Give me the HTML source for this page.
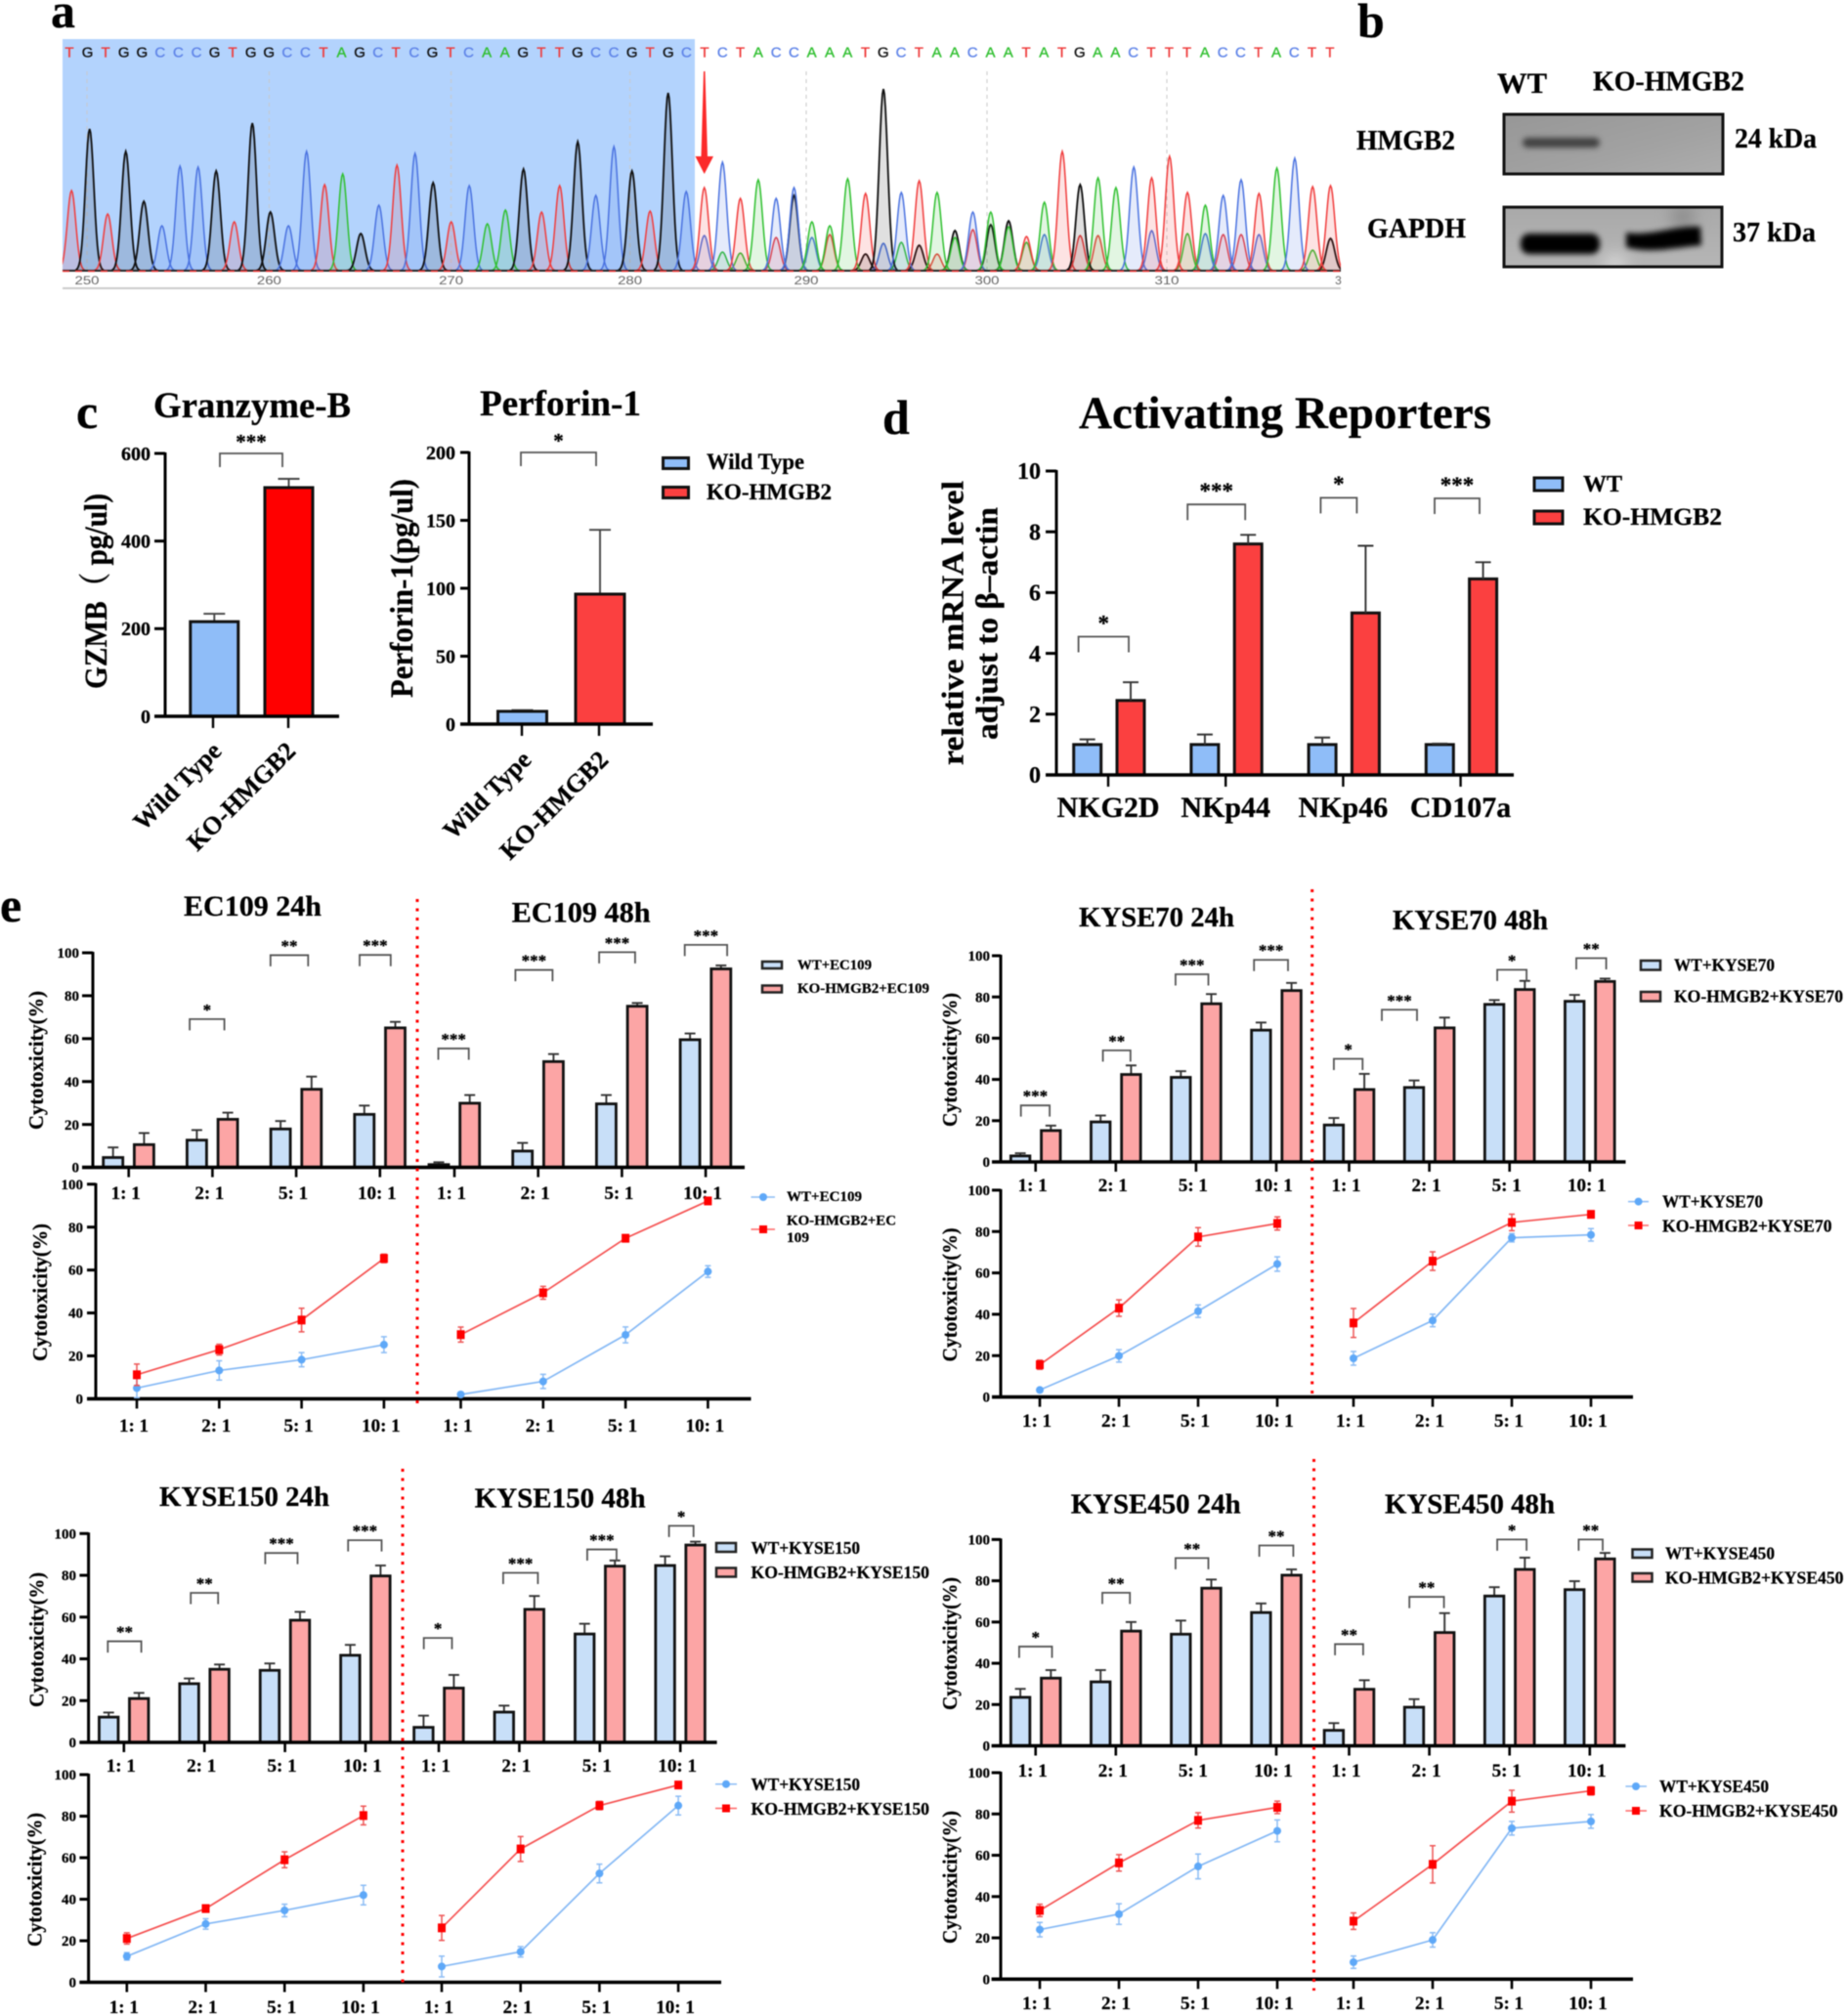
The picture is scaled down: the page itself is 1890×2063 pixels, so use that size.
<!DOCTYPE html>
<html lang="en">
<head>
<meta charset="utf-8">
<title>HMGB2 knockout figure</title>
<style>
html,body{margin:0;padding:0;background:#fff;}
svg{display:block;filter:blur(.6px);}
text{font-family:"Liberation Serif","Noto Serif CJK SC",serif;font-weight:bold;fill:#000;stroke:#000;stroke-width:.25px;}
</style>
</head>
<body>
<svg id="root" width="1890" height="2063" viewBox="0 0 1890 2063">
<defs>
<clipPath id="chromClip"><rect x="64" y="40" width="1308" height="240"/></clipPath>
<clipPath id="gapdhClip"><rect x="1539" y="212" width="223" height="61"/></clipPath>
<filter id="bandBlur" x="-20%" y="-100%" width="140%" height="300%"><feGaussianBlur stdDeviation="3"/></filter>
<filter id="softBlur" x="-100%" y="-100%" width="300%" height="300%"><feGaussianBlur stdDeviation="8"/></filter>
<linearGradient id="blotA" x1="0" y1="0" x2="1" y2="1"><stop offset="0" stop-color="#979797"/><stop offset=".6" stop-color="#a2a2a2"/><stop offset="1" stop-color="#adadad"/></linearGradient>
<linearGradient id="blotB" x1="0" y1="0" x2="0" y2="1"><stop offset="0" stop-color="#a9a9a9"/><stop offset="1" stop-color="#b6b6b6"/></linearGradient>
</defs>
<rect x="0" y="0" width="1890" height="2063" fill="#fff"/>

<!-- panel letters -->
<text x="52" y="28" font-size="50">a</text>
<text x="1389" y="38" font-size="50">b</text>
<text x="78" y="438" font-size="50">c</text>
<text x="903" y="444" font-size="50">d</text>
<text x="0" y="943" font-size="50">e</text>

<!-- panel a -->
<g id="chrom">
<rect x="64" y="40" width="647" height="237" fill="#b3d3fd"/>
<g id="chromGrid"></g>
<g id="chromPeaks" clip-path="url(#chromClip)"></g>
<g id="chromLetters"></g>
<line x1="64" y1="277" x2="1372" y2="277" stroke="#222" stroke-width="2"/>
<line x1="64" y1="277.5" x2="1372" y2="277.5" stroke="#e33" stroke-width="1.5" stroke-dasharray="7 6"/>
<line x1="64" y1="295" x2="1372" y2="295" stroke="#ccc" stroke-width="2"/>
<polygon points="720,73 721.5,73 724,160 730,160 720.7,178 711.5,160 717.5,160" fill="#fb2a2a"/>
</g>

<!-- panel b -->
<g>
<text x="1532" y="95" font-size="30" textLength="51" lengthAdjust="spacingAndGlyphs">WT</text>
<text x="1630" y="92.5" font-size="28" textLength="155" lengthAdjust="spacingAndGlyphs">KO-HMGB2</text>
<text x="1388" y="153" font-size="28" textLength="101" lengthAdjust="spacingAndGlyphs">HMGB2</text>
<text x="1399" y="243" font-size="28" textLength="101" lengthAdjust="spacingAndGlyphs">GAPDH</text>
<text x="1775" y="151" font-size="28" textLength="84" lengthAdjust="spacingAndGlyphs">24 kDa</text>
<text x="1773" y="247" font-size="28" textLength="85" lengthAdjust="spacingAndGlyphs">37 kDa</text>
<rect x="1539" y="117" width="224" height="61" fill="url(#blotA)" stroke="#111" stroke-width="3"/>
<rect x="1558" y="141" width="79" height="10" rx="5" fill="#404040" filter="url(#bandBlur)"/>
<rect x="1539" y="212" width="223" height="61" fill="url(#blotB)"/>
<g clip-path="url(#gapdhClip)">
<ellipse cx="1722" cy="222" rx="12" ry="12" fill="#8a8a8a" filter="url(#softBlur)"/>
<ellipse cx="1653" cy="270" rx="12" ry="9" fill="#dcdcdc" filter="url(#softBlur)"/>
<rect x="1556" y="239" width="81" height="21" rx="9" fill="#060606" filter="url(#bandBlur)"/>
<path d="M1664 238 C1690 242 1710 231 1740 232 L1741 251 C1715 253 1690 260 1664 253 Z" fill="#060606" filter="url(#bandBlur)"/>
</g>
<rect x="1539" y="212" width="223" height="61" fill="none" stroke="#111" stroke-width="3"/>
</g>

<!-- panel c static text -->
<g>
<text x="157" y="427" font-size="37" textLength="202" lengthAdjust="spacingAndGlyphs">Granzyme-B</text>
<text x="491" y="425" font-size="37" textLength="165" lengthAdjust="spacingAndGlyphs">Perforin-1</text>
<text transform="translate(109,605) rotate(-90)" text-anchor="middle" font-size="33" textLength="200" lengthAdjust="spacingAndGlyphs">GZMB（ pg/ul)</text>
<text transform="translate(422,602) rotate(-90)" text-anchor="middle" font-size="33" textLength="224" lengthAdjust="spacingAndGlyphs">Perforin-1(pg/ul)</text>
<rect x="678.5" y="468.5" width="26" height="11" fill="#8fbdf8" stroke="#111" stroke-width="3"/>
<text x="723" y="480" font-size="23" textLength="100" lengthAdjust="spacingAndGlyphs">Wild Type</text>
<rect x="678.5" y="498.5" width="26" height="11" fill="#fb4040" stroke="#111" stroke-width="3"/>
<text x="723" y="511" font-size="23" textLength="128" lengthAdjust="spacingAndGlyphs">KO-HMGB2</text>
</g>
<g id="gzmbChart"></g>
<g id="perforinChart"></g>

<!-- panel d static text -->
<g>
<text x="1104" y="438" font-size="47" textLength="422" lengthAdjust="spacingAndGlyphs">Activating Reporters</text>
<text transform="translate(985.7,637.5) rotate(-90)" text-anchor="middle" font-size="32" textLength="291" lengthAdjust="spacingAndGlyphs">relative mRNA level</text>
<text transform="translate(1020.7,638) rotate(-90)" text-anchor="middle" font-size="32" textLength="238" lengthAdjust="spacingAndGlyphs">adjust to β–actin</text>
<rect x="1570" y="489" width="29" height="13" fill="#8fbdf8" stroke="#111" stroke-width="3"/>
<text x="1620" y="503" font-size="24" textLength="40" lengthAdjust="spacingAndGlyphs">WT</text>
<rect x="1570" y="523" width="29" height="13" fill="#fb4040" stroke="#111" stroke-width="3"/>
<text x="1620" y="537" font-size="25" textLength="142" lengthAdjust="spacingAndGlyphs">KO-HMGB2</text>
</g>
<g id="mrnaChart"></g>

<!-- panel e static text : EC109 -->
<g>
<text x="188" y="937" font-size="30" textLength="141" lengthAdjust="spacingAndGlyphs">EC109 24h</text>
<text x="523.6" y="943.6" font-size="30" textLength="142" lengthAdjust="spacingAndGlyphs">EC109 48h</text>
<text transform="translate(44,1085) rotate(-90)" text-anchor="middle" font-size="21" textLength="142" lengthAdjust="spacingAndGlyphs">Cytotoxicity(%)</text>
<text transform="translate(48,1322.5) rotate(-90)" text-anchor="middle" font-size="21" textLength="141" lengthAdjust="spacingAndGlyphs">Cytotoxicity(%)</text>
<rect x="780" y="984" width="20" height="7" fill="#c8dff8" stroke="#222" stroke-width="2.5"/>
<text x="816" y="992" font-size="15" textLength="76" lengthAdjust="spacingAndGlyphs">WT+EC109</text>
<rect x="780" y="1008.5" width="20" height="7" fill="#fca5a5" stroke="#222" stroke-width="2.5"/>
<text x="816" y="1016" font-size="15" textLength="135" lengthAdjust="spacingAndGlyphs">KO-HMGB2+EC109</text>
<line x1="768.5" y1="1225" x2="793" y2="1225" stroke="#8bbcf5" stroke-width="1.5"/>
<circle cx="781" cy="1225" r="4" fill="#5ea8f8"/>
<text x="805" y="1229" font-size="15" textLength="77" lengthAdjust="spacingAndGlyphs">WT+EC109</text>
<line x1="768.5" y1="1258" x2="793" y2="1258" stroke="#f66" stroke-width="1.5"/>
<rect x="777" y="1254" width="8" height="8" fill="#f00"/>
<text x="805" y="1253.6" font-size="15" textLength="112" lengthAdjust="spacingAndGlyphs">KO-HMGB2+EC</text>
<text x="805" y="1271" font-size="15" textLength="23" lengthAdjust="spacingAndGlyphs">109</text>
</g>
<g id="ec109Bar"></g>
<g id="ec109Line"></g>
<line x1="427" y1="920" x2="427" y2="1437" stroke="#f00" stroke-width="3" stroke-dasharray="3 6.5"/>

<!-- KYSE70 -->
<g>
<text x="1104" y="948" font-size="29" textLength="159" lengthAdjust="spacingAndGlyphs">KYSE70 24h</text>
<text x="1425" y="951" font-size="29" textLength="159" lengthAdjust="spacingAndGlyphs">KYSE70 48h</text>
<text transform="translate(979,1084.5) rotate(-90)" text-anchor="middle" font-size="21" textLength="137" lengthAdjust="spacingAndGlyphs">Cytotoxicity(%)</text>
<text transform="translate(979,1325) rotate(-90)" text-anchor="middle" font-size="21" textLength="137" lengthAdjust="spacingAndGlyphs">Cytotoxicity(%)</text>
<rect x="1679" y="983" width="20" height="9.5" fill="#c8dff8" stroke="#222" stroke-width="2.5"/>
<text x="1713" y="993.6" font-size="17.5" textLength="103" lengthAdjust="spacingAndGlyphs">WT+KYSE70</text>
<rect x="1679" y="1015" width="20" height="9.5" fill="#fca5a5" stroke="#222" stroke-width="2.5"/>
<text x="1713" y="1025.7" font-size="17.5" textLength="173" lengthAdjust="spacingAndGlyphs">KO-HMGB2+KYSE70</text>
<line x1="1666" y1="1229.6" x2="1687" y2="1229.6" stroke="#8bbcf5" stroke-width="1.5"/>
<circle cx="1676.6" cy="1229.6" r="4" fill="#5ea8f8"/>
<text x="1701" y="1235.7" font-size="17.5" textLength="103" lengthAdjust="spacingAndGlyphs">WT+KYSE70</text>
<line x1="1666" y1="1254" x2="1687" y2="1254" stroke="#f66" stroke-width="1.5"/>
<rect x="1672.6" y="1250" width="8" height="8" fill="#f00"/>
<text x="1701" y="1260.7" font-size="17.5" textLength="173.5" lengthAdjust="spacingAndGlyphs">KO-HMGB2+KYSE70</text>
</g>
<g id="kyse70Bar"></g>
<g id="kyse70Line"></g>
<line x1="1342.7" y1="910" x2="1342.7" y2="1430" stroke="#f00" stroke-width="3" stroke-dasharray="3 6.5"/>

<!-- KYSE150 -->
<g>
<text x="163" y="1541" font-size="29" textLength="174" lengthAdjust="spacingAndGlyphs">KYSE150 24h</text>
<text x="485.6" y="1542.4" font-size="29" textLength="175" lengthAdjust="spacingAndGlyphs">KYSE150 48h</text>
<text transform="translate(44.6,1678) rotate(-90)" text-anchor="middle" font-size="21" textLength="138" lengthAdjust="spacingAndGlyphs">Cytotoxicity(%)</text>
<text transform="translate(42.7,1923.5) rotate(-90)" text-anchor="middle" font-size="21" textLength="137" lengthAdjust="spacingAndGlyphs">Cytotoxicity(%)</text>
<rect x="733" y="1579" width="20" height="9" fill="#c8dff8" stroke="#222" stroke-width="2.5"/>
<text x="768.5" y="1590" font-size="17.5" textLength="111.5" lengthAdjust="spacingAndGlyphs">WT+KYSE150</text>
<rect x="733" y="1604.5" width="20" height="9" fill="#fca5a5" stroke="#222" stroke-width="2.5"/>
<text x="768.5" y="1615" font-size="17.5" textLength="182.5" lengthAdjust="spacingAndGlyphs">KO-HMGB2+KYSE150</text>
<line x1="732" y1="1825.7" x2="754" y2="1825.7" stroke="#8bbcf5" stroke-width="1.5"/>
<circle cx="743" cy="1825.7" r="4" fill="#5ea8f8"/>
<text x="768.5" y="1832" font-size="17.5" textLength="111.5" lengthAdjust="spacingAndGlyphs">WT+KYSE150</text>
<line x1="732" y1="1850.5" x2="754" y2="1850.5" stroke="#f66" stroke-width="1.5"/>
<rect x="739" y="1846.5" width="8" height="8" fill="#f00"/>
<text x="768.5" y="1857" font-size="17.5" textLength="182.5" lengthAdjust="spacingAndGlyphs">KO-HMGB2+KYSE150</text>
</g>
<g id="kyse150Bar"></g>
<g id="kyse150Line"></g>
<line x1="412" y1="1503" x2="412" y2="2031" stroke="#f00" stroke-width="3" stroke-dasharray="3 6.5"/>

<!-- KYSE450 -->
<g>
<text x="1095.7" y="1548.5" font-size="29" textLength="174" lengthAdjust="spacingAndGlyphs">KYSE450 24h</text>
<text x="1417" y="1548.5" font-size="29" textLength="174" lengthAdjust="spacingAndGlyphs">KYSE450 48h</text>
<text transform="translate(979,1682) rotate(-90)" text-anchor="middle" font-size="21" textLength="136" lengthAdjust="spacingAndGlyphs">Cytotoxicity(%)</text>
<text transform="translate(979,1921) rotate(-90)" text-anchor="middle" font-size="21" textLength="136" lengthAdjust="spacingAndGlyphs">Cytotoxicity(%)</text>
<rect x="1670.5" y="1585.5" width="20" height="8.5" fill="#c8dff8" stroke="#222" stroke-width="2.5"/>
<text x="1704" y="1595.5" font-size="17.5" textLength="112" lengthAdjust="spacingAndGlyphs">WT+KYSE450</text>
<rect x="1670.5" y="1610" width="20" height="8.5" fill="#fca5a5" stroke="#222" stroke-width="2.5"/>
<text x="1704" y="1620.6" font-size="17.5" textLength="182.5" lengthAdjust="spacingAndGlyphs">KO-HMGB2+KYSE450</text>
<line x1="1663.4" y1="1828" x2="1685" y2="1828" stroke="#8bbcf5" stroke-width="1.5"/>
<circle cx="1674" cy="1828" r="4" fill="#5ea8f8"/>
<text x="1698" y="1834" font-size="17.5" textLength="112" lengthAdjust="spacingAndGlyphs">WT+KYSE450</text>
<line x1="1663.4" y1="1853" x2="1685" y2="1853" stroke="#f66" stroke-width="1.5"/>
<rect x="1670" y="1849" width="8" height="8" fill="#f00"/>
<text x="1698" y="1859" font-size="17.5" textLength="182.4" lengthAdjust="spacingAndGlyphs">KO-HMGB2+KYSE450</text>
</g>
<g id="kyse450Bar"></g>
<g id="kyse450Line"></g>
<line x1="1344.5" y1="1493" x2="1344.5" y2="2037" stroke="#f00" stroke-width="3" stroke-dasharray="3 6.5"/>
</svg>

<script>
/* ---------- data: sequencing trace ---------- */
const baseCalls = "TGTGGCCCGTGGCCTAGCTCGTCAAGTTGCCGTGCTCTACCAAATGCTAACAATATGAACTTTACCTACTT";
const primaryPeakHeights = [82,145,58,122,71,46,107,106,102,50,151,60,46,122,88,99,38,67,108,120,90,50,87,48,62,104,60,87,132,77,127,102,61,182,81,85,111,74,93,74,85,50,46,94,79,186,80,92,80,34,60,60,45,35,70,122,88,95,85,106,95,117,80,67,77,93,79,105,115,86,87];
const secondaryPeakBases = ["C","A","A","T","G","C","T","G","C","A","G","T","G","T","G","G","A","C","T","T","C","A","C","T","T","C","A","G"];
const secondaryPeakIndex = [35,36,37,39,40,41,42,44,45,46,47,48,49,50,51,52,53,54,56,57,60,62,63,64,65,66,69,70];
const secondaryPeakHeights = [36,19,18,34,77,34,37,17,28,29,26,17,41,42,47,51,29,37,36,36,41,38,38,37,37,37,21,33];
const positionLabels = [250,260,270,280,290,300,310];

/* ---------- data: panel c ---------- */
const cytokineCategories = ["Wild Type","KO-HMGB2"];
const gzmbValues = [216,522];
const gzmbUpper = [234,542];
const gzmbTicks = [0,200,400,600];
const perforinValues = [9.4,95.7];
const perforinUpper = [10.3,143];
const perforinTicks = [0,50,100,150,200];

/* ---------- data: panel d ---------- */
const reporterCategories = ["NKG2D","NKp44","NKp46","CD107a"];
const reporterWt = [1,1,1,1];
const reporterWtUpper = [1.17,1.33,1.23,1.03];
const reporterKo = [2.45,7.6,5.33,6.45];
const reporterKoUpper = [3.05,7.9,7.54,7];
const reporterTicks = [0,2,4,6,8,10];
const reporterSig = ["*","***","*","***"];
const reporterBracketTop = [4.55,8.9,9.12,9.1];

/* ---------- data: panel e ---------- */
const ratioLabels = ["1: 1","2: 1","5: 1","10: 1","1: 1","2: 1","5: 1","10: 1"];
const percentTicks = [0,20,40,60,80,100];

const ec109BarWt = [4.6,12.7,17.9,24.7,1.3,7.6,29.6,59.5];
const ec109BarWtUpper = [9.3,17.4,21.6,28.8,2.4,11.4,33.7,62.4];
const ec109BarKo = [10.6,22.4,36.4,65,29.9,49.3,75.1,92.5];
const ec109BarKoUpper = [16,25.5,42.3,67.8,33.7,52.8,76.6,94.1];
const ec109Sig = ["","*","**","***","***","***","***","***"];
const ec109BracketTop = [0,69.1,98.9,99,55.4,92,100.3,103.7];
const ec109BracketLeft = [0,-23.3,-26.3,-20.8,-16.5,-23.3,-23.3,-21.4];
const ec109BracketRight = [0,12.2,12.2,11,14.7,14.7,13.5,22];
const ec109LineWt = [5,13.2,18.2,25.2,2,8.1,29.8,59.3];
const ec109LineWtErr = [4.5,4.5,3.3,3.7,1,3.3,3.7,2.7];
const ec109LineKo = [11.2,22.9,36.7,65.4,29.9,49.4,74.8,92.2];
const ec109LineKoErr = [5,2.5,5.5,2,3.5,3,1,1.5];

const kyse70BarWt = [2.9,19.4,41,63.9,17.9,36.1,76.4,77.9];
const kyse70BarWtUpper = [4.2,22.5,44,67.6,21.3,39.5,78.5,81];
const kyse70BarKo = [15.2,42.4,76.7,83.1,35.1,65,83.6,87.5];
const kyse70BarKoUpper = [17.6,46.8,81.4,86.8,42.7,70,87.8,88.9];
const kyse70Sig = ["***","**","***","***","*","***","*","**"];
const kyse70BracketTop = [27.4,54.1,91,98,50,73.8,93.2,98.8];
const kyse70BracketLeft = [-15,-13.2,-21,-22.8,-15.6,-48.6,-12.6,-13.8];
const kyse70BracketRight = [14.4,15,12.6,12,13.8,-12.6,17.4,16.8];
const kyse70LineWt = [3.4,19.9,41.5,64.3,18.7,37,77,78.4];
const kyse70LineWtErr = [1,3,3,3.5,3.3,3,2,3];
const kyse70LineKo = [15.6,43,77.4,83.9,35.8,65.7,84.4,88.3];
const kyse70LineKoErr = [2.2,4,4.5,3.2,7,4.5,4,1.5];

const kyse150BarWt = [12.1,28.1,34.5,41.7,7.2,14.5,51.9,84.7];
const kyse150BarWtUpper = [14.3,30.6,37.8,46.7,12.8,17.6,56.8,89.1];
const kyse150BarKo = [21,35,58.5,79.7,26,63.7,84.4,94.5];
const kyse150BarKoUpper = [23.7,37.3,62.5,84.7,32.3,70.1,87.1,96.1];
const kyse150Sig = ["**","**","***","***","*","***","***","*"];
const kyse150BracketTop = [48.4,71.6,90.7,96.8,50,81.2,92.4,103.7];
const kyse150BracketLeft = [-16.5,-14,-20.2,-17.8,-15.3,-16.5,-12.9,-11.6];
const kyse150BracketRight = [17.8,14,12.9,16.5,13.5,19,17.1,13.5];
const kyse150LineWt = [12.5,28.1,34.6,42,7.6,14.7,52.4,85.1];
const kyse150LineWtErr = [1.8,2.5,3,4.7,5,2.5,4.5,4.5];
const kyse150LineKo = [21.1,35.5,59,80.3,26.2,64.2,85.1,95];
const kyse150LineKoErr = [2.7,1.2,3.8,4.5,6,6,2,1];

const kyse450BarWt = [23.5,31,54.1,64.6,7.5,18.7,72.6,75.7];
const kyse450BarWtUpper = [27.6,36.7,60.7,69,11,22.6,76.9,79.8];
const kyse450BarKo = [32.8,55.6,76.4,82.7,27.4,54.9,85.5,90.6];
const kyse450BarKoUpper = [36.7,60,80.6,85.5,31.8,64.3,91.2,93.5];
const kyse450Sig = ["*","**","**","**","**","**","*","**"];
const kyse450BracketTop = [48.1,74.2,91,97.1,49.3,72.2,100,100];
const kyse450BracketLeft = [-16.8,-13.8,-21,-17.4,-14.4,-20.4,-12.6,-11.4];
const kyse450BracketRight = [16.8,14.4,12.6,17.4,14.4,15,17.4,13.2];
const kyse450LineWt = [24,31.5,54.6,71.8,8.2,19,73.1,76.4];
const kyse450LineWtErr = [3.5,5,6,5.3,3,3.5,3.3,3.3];
const kyse450LineKo = [33.3,56.3,76.9,83.2,28.1,55.6,86.2,91.2];
const kyse450LineKoErr = [3,4,3.7,3,4,9,5.3,2];

/* ---------- helpers ---------- */
const root = document.getElementById("root");
const NS = root.namespaceURI;
function make(tag, attrs, parent) {
  const el = document.createElementNS(NS, tag);
  for (const k in attrs) el.setAttribute(k, attrs[k]);
  parent.appendChild(el);
  return el;
}
function linear(d0, d1, r0, r1) {
  return function (v) { return r0 + (v - d0) * (r1 - r0) / (d1 - d0); };
}

function drawYAxis(g, yFn, ticks, axisX, tickL, labelR, fontSize, strokeW) {
  const axis = make("line", {x1: axisX, x2: axisX, y1: yFn(ticks[ticks.length - 1]) - 1, y2: yFn(ticks[0]) + 1, stroke: "#000", "stroke-width": strokeW}, g);
  
  
  ticks.forEach(function (t) {
    const tick = make("line", {x1: tickL, x2: axisX, y1: yFn(t), y2: yFn(t), stroke: "#000", "stroke-width": strokeW}, g);
    
    
    const lab = make("text", {x: labelR, y: yFn(t) + fontSize * 0.34, "text-anchor": "end", "font-size": fontSize}, g);
    lab.textContent = t;
    
    
  });
}
function drawXAxis(g, y, xL, xR, strokeW) {
  const axis = make("line", {x1: xL, x2: xR, y1: y, y2: y, stroke: "#000", "stroke-width": strokeW}, g);
  
  
}
function drawXTick(g, x, y, len, strokeW) {
  const tick = make("line", {x1: x, x2: x, y1: y, y2: y + len, stroke: "#000", "stroke-width": strokeW}, g);
  
  
}
function drawXLabel(g, x, y, str, fontSize) {
  const lab = make("text", {x: x, y: y, "text-anchor": "middle", "font-size": fontSize}, g);
  lab.textContent = str;
  
  
}
function drawBar(g, x, w, yTop, yBase, fill, strokeW) {
  const bar = make("rect", {x: x - w / 2, y: yTop, width: w, height: Math.max(0, yBase - yTop), fill: fill, stroke: "#111", "stroke-width": strokeW}, g);
  
  
}
function drawError(g, x, yA, yB, cap, color, w) {
  const stem = make("line", {x1: x, x2: x, y1: yA, y2: yB, stroke: color, "stroke-width": w}, g);
  
  
  const capTop = make("line", {x1: x - cap, x2: x + cap, y1: yB, y2: yB, stroke: color, "stroke-width": w}, g);
  
  
}
function drawBracket(g, xL, xR, y, leg, label, fontSize, starGap) {
  const b = make("path", {d: "M" + xL + " " + (y + leg) + "V" + y + "H" + xR + "V" + (y + leg), fill: "none", stroke: "#555", "stroke-width": 1.8}, g);
  
  
  const s = make("text", {x: (xL + xR) / 2, y: y - starGap + fontSize * 0.47, "text-anchor": "middle", "font-size": fontSize}, g);
  s.textContent = label;
  
  
}

/* ---------- panel a ---------- */
const chromBaseY = 277;
const chromPeakX = function (i) { return i <= 35 ? 73.2 + 18.5 * i : 721 + 18.3 * (i - 35); };
const chromLetterX = function (i) { return i <= 35 ? 71 + 18.57 * i : 721 + 18.28 * (i - 35); };
const chromHeightY = linear(0, 100, chromBaseY, chromBaseY - 100);
const baseColor = {A: "#2fc02f", C: "#4a72e0", G: "#111111", T: "#f03c3c"};
const letterColor = {A: "#2fbf2f", C: "#5f84e8", G: "#111111", T: "#ee3a3a"};
const positionX = linear(250, 260, 89, 275.6);

function drawPeak(g, i, base, h) {
  const cx = chromPeakX(i);
  const sigma = 4.3;
  let d = "M" + (cx - 14) + " " + chromBaseY;
  for (let dx = -14; dx <= 14; dx += 1) {
    d += "L" + (cx + dx) + " " + (chromHeightY(0) - (chromHeightY(0) - chromHeightY(h)) * Math.exp(-dx * dx / (2 * sigma * sigma))).toFixed(1);
  }
  d += "V" + chromBaseY + "Z";
  const p = make("path", {d: d, fill: baseColor[base], "fill-opacity": base === "G" ? 0.13 : 0.14, stroke: baseColor[base], "stroke-width": base === "G" ? 1.8 : 1.5}, g);
  
  
}
(function () {
  const gridG = document.getElementById("chromGrid");
  const peaksG = document.getElementById("chromPeaks");
  const lettersG = document.getElementById("chromLetters");
  const tickPixel = {250: 89, 260: 275.4, 270: 461.6, 280: 644.6, 290: 825, 300: 1010, 310: 1194};
  positionLabels.forEach(function (pos) {
    const x = tickPixel[pos] !== undefined ? tickPixel[pos] : positionX(pos);
    const gl = make("line", {x1: x, x2: x, y1: 73, y2: 277, stroke: "#c9c9c9", "stroke-width": 1, "stroke-dasharray": "4 4"}, gridG);
    
    
    const lab = make("text", {x: x, y: 291, "text-anchor": "middle", "font-size": 12, textLength: 25, lengthAdjust: "spacingAndGlyphs", style: "font-family:'Liberation Sans',sans-serif;font-weight:normal;fill:#666;stroke:none"}, gridG);
    lab.textContent = pos;
    
    
  });
  const lastLab = make("text", {x: 1369.5, y: 291, "text-anchor": "middle", "font-size": 12, style: "font-family:'Liberation Sans',sans-serif;font-weight:normal;fill:#666;stroke:none"}, gridG);
  lastLab.textContent = "3";
  
  

  secondaryPeakIndex.forEach(function (idx, k) {
    drawPeak(peaksG, idx, secondaryPeakBases[k], secondaryPeakHeights[k]);
  });
  primaryPeakHeights.forEach(function (h, i) {
    drawPeak(peaksG, i, baseCalls[i], h);
  });
  baseCalls.split("").forEach(function (ch, i) {
    const t = make("text", {x: chromLetterX(i), y: 58.5, "text-anchor": "middle", "font-size": 15, style: "font-family:'Liberation Sans',sans-serif;font-weight:normal;stroke-width:.35px;stroke:" + letterColor[ch] + ";fill:" + letterColor[ch]}, lettersG);
    t.textContent = ch;
    
    
  });
})();

/* ---------- panel c ---------- */
function drawCytokine(g, cfg, values, upper, ticks) {
  const y = linear(ticks[0], ticks[ticks.length - 1], cfg.y0, cfg.yTop);
  drawBracket(g, cfg.brL, cfg.brR, cfg.brY, 14, cfg.star, 21, 15);
  drawYAxis(g, y, ticks, cfg.axisX, cfg.tickL, cfg.labelR, 20, 3);
  values.forEach(function (v, i) {
    drawError(g, cfg.x[i], y(v), y(upper[i]), 11, "#444", 1.9);
    drawBar(g, cfg.x[i], cfg.w, y(v), cfg.y0, cfg.fills[i], 3);
    drawXTick(g, cfg.tick[i], cfg.y0, 12, 2.4);
    const lab = make("text", {transform: "translate(" + cfg.labelEnd[i] + "," + cfg.labelEndY + ") rotate(-45)", "text-anchor": "end", "font-size": 26}, g);
    lab.textContent = cytokineCategories[i];
    
    
  });
  drawXAxis(g, cfg.y0, cfg.xL, cfg.xR, 3.6);
}
drawCytokine(document.getElementById("gzmbChart"), {
  y0: 733, yTop: 464, axisX: 169, tickL: 158, labelR: 154, xL: 158, xR: 347,
  x: [219.3, 295.5], w: 49, tick: [218, 295], fills: ["#8fbdf8", "#ff0000"],
  brL: 225, brR: 289, brY: 464, star: "***", labelEnd: [228, 304], labelEndY: 770
}, gzmbValues, gzmbUpper, gzmbTicks);
drawCytokine(document.getElementById("perforinChart"), {
  y0: 741, yTop: 463, axisX: 480, tickL: 471, labelR: 466, xL: 471, xR: 668,
  x: [534.5, 614], w: 50, tick: [534, 613], fills: ["#8fbdf8", "#fb4040"],
  brL: 533, brR: 610, brY: 463, star: "*", labelEnd: [545, 624], labelEndY: 779
}, perforinValues, perforinUpper, perforinTicks);

/* ---------- panel d ---------- */
(function () {
  const g = document.getElementById("mrnaChart");
  const y = linear(0, 10, 793, 482);
  const tickX = function (i) { return 1134 + 120.2 * i; };
  const spans = [[-30.4, 21], [-39, 20], [-23, 14], [-26.6, 19.4]];
  drawYAxis(g, y, reporterTicks, 1081, 1070, 1065, 24, 3);
  reporterCategories.forEach(function (c, i) {
    drawBar(g, tickX(i) - 21.3, 28, y(reporterWt[i]), 793, "#8fbdf8", 3);
    drawBar(g, tickX(i) + 23, 28, y(reporterKo[i]), 793, "#fb4040", 3);
    drawError(g, tickX(i) - 21.3, y(reporterWt[i]), y(reporterWtUpper[i]), 8, "#333", 1.9);
    drawError(g, tickX(i) + 23, y(reporterKo[i]), y(reporterKoUpper[i]), 8, "#333", 1.9);
    drawXTick(g, tickX(i), 793, 12, 2.4);
    drawXLabel(g, tickX(i), 836, c, 30);
    drawBracket(g, tickX(i) + spans[i][0], tickX(i) + spans[i][1], y(reporterBracketTop[i]), 16, reporterSig[i], 23, 17);
  });
  drawXAxis(g, 793, 1070, 1549, 3.6);
})();

/* ---------- panel e ---------- */
function drawBarPanel(g, p, wt, wtUp, ko, koUp, sig, brTop, brL, brR) {
  const y = linear(0, 100, p.y0, p.y100);
  const x = function (i) { return i < 4 ? p.x0 + i * p.step : p.x1 + (i - 4) * p.step; };
  drawYAxis(g, y, percentTicks, p.axisX, p.xL, p.labelR, 15, 3);
  ratioLabels.forEach(function (lab, i) {
    drawError(g, x(i) + p.wtDx, y(wt[i]), y(wtUp[i]), 5.5, "#333", 1.9);
    drawError(g, x(i) + p.koDx, y(ko[i]), y(koUp[i]), 5.5, "#333", 1.9);
    drawBar(g, x(i) + p.wtDx, p.w, y(wt[i]), p.y0, "#c8dff8", 2.8);
    drawBar(g, x(i) + p.koDx, p.w, y(ko[i]), p.y0, "#fca5a5", 2.8);
    drawXTick(g, x(i), p.y0, 10, 2.6);
    drawXLabel(g, x(i) - 3, p.labelY, lab, 19);
    if (sig[i]) {
      drawBracket(g, x(i) + brL[i], x(i) + brR[i], y(brTop[i]), 11.5, sig[i], 17, 12);
    }
  });
  drawXAxis(g, p.y0, p.xL, p.xR, 3.6);
}
function drawLinePanel(g, p, wt, wtErr, ko, koErr) {
  const y = linear(0, 100, p.y0, p.y100);
  const x = function (i) { return i < 4 ? p.x0 + i * p.step : p.x1 + (i - 4) * p.step; };
  drawYAxis(g, y, percentTicks, p.axisX, p.xL, p.labelR, 15, 3);
  drawXAxis(g, p.y0, p.xL, p.xR, 3.6);
  ratioLabels.forEach(function (lab, i) {
    drawXTick(g, x(i), p.y0, 10, 2.6);
    drawXLabel(g, x(i) - 3, p.labelY, lab, 19);
  });
  [[0, 4], [4, 8]].forEach(function (range) {
    const idx = [];
    for (let k = range[0]; k < range[1]; k++) idx.push(k);
    const wtLine = make("polyline", {points: idx.map(function (k) { return x(k) + "," + y(wt[k]); }).join(" "), fill: "none", stroke: "#84b8f5", "stroke-width": 1.7}, g);
    
    
    const koLine = make("polyline", {points: idx.map(function (k) { return x(k) + "," + y(ko[k]); }).join(" "), fill: "none", stroke: "#f55050", "stroke-width": 1.7}, g);
    
    
  });
  ratioLabels.forEach(function (lab, i) {
    const wtStem = make("path", {d: "M" + (x(i) - 3) + " " + y(wt[i] + wtErr[i]) + "h6M" + x(i) + " " + y(wt[i] + wtErr[i]) + "V" + y(Math.max(0, wt[i] - wtErr[i])) + "M" + (x(i) - 3) + " " + y(Math.max(0, wt[i] - wtErr[i])) + "h6", fill: "none", stroke: "#8bbcf5", "stroke-width": 1.5}, g);
    
    
    const wtDot = make("circle", {cx: x(i), cy: y(wt[i]), r: 4, fill: "#5ea8f8"}, g);
    
    
    const koStem = make("path", {d: "M" + (x(i) - 3) + " " + y(ko[i] + koErr[i]) + "h6M" + x(i) + " " + y(ko[i] + koErr[i]) + "V" + y(ko[i] - koErr[i]) + "M" + (x(i) - 3) + " " + y(ko[i] - koErr[i]) + "h6", fill: "none", stroke: "#ee5555", "stroke-width": 1.5}, g);
    
    
    const koDot = make("rect", {x: x(i) - 4, y: y(ko[i]) - 4.5, width: 8, height: 9, fill: "#ff0000"}, g);
    
    
  });
}

drawBarPanel(document.getElementById("ec109Bar"),
  {x0: 131.7, x1: 465, step: 85.7, axisX: 95, y0: 1194.6, y100: 975, xL: 84, xR: 762, labelR: 81, labelY: 1227, wtDx: -16, koDx: 15.7, w: 20},
  ec109BarWt, ec109BarWtUpper, ec109BarKo, ec109BarKoUpper, ec109Sig, ec109BracketTop, ec109BracketLeft, ec109BracketRight);
drawLinePanel(document.getElementById("ec109Line"),
  {x0: 140, x1: 471.5, step: 84.3, axisX: 98, y0: 1431.4, y100: 1211.8, xL: 89, xR: 768.5, labelR: 85, labelY: 1465},
  ec109LineWt, ec109LineWtErr, ec109LineKo, ec109LineKoErr);

drawBarPanel(document.getElementById("kyse70Bar"),
  {x0: 1059.7, x1: 1380.5, step: 82.1, axisX: 1024, y0: 1189, y100: 978, xL: 1015, xR: 1663.5, labelR: 1013, labelY: 1219, wtDx: -15.6, koDx: 15.6, w: 19.5},
  kyse70BarWt, kyse70BarWtUpper, kyse70BarKo, kyse70BarKoUpper, kyse70Sig, kyse70BracketTop, kyse70BracketLeft, kyse70BracketRight);
drawLinePanel(document.getElementById("kyse70Line"),
  {x0: 1064, x1: 1385, step: 81, axisX: 1024, y0: 1429.6, y100: 1217.9, xL: 1015, xR: 1671, labelR: 1013, labelY: 1460},
  kyse70LineWt, kyse70LineWtErr, kyse70LineKo, kyse70LineKoErr);

drawBarPanel(document.getElementById("kyse150Bar"),
  {x0: 126.8, x1: 449, step: 82.4, axisX: 90.6, y0: 1783, y100: 1569.3, xL: 81.4, xR: 733.6, labelR: 78, labelY: 1813, wtDx: -15.6, koDx: 15.4, w: 19.5},
  kyse150BarWt, kyse150BarWtUpper, kyse150BarKo, kyse150BarKoUpper, kyse150Sig, kyse150BracketTop, kyse150BracketLeft, kyse150BracketRight);
drawLinePanel(document.getElementById("kyse150Line"),
  {x0: 129.8, x1: 452, step: 80.7, axisX: 90.6, y0: 2028.5, y100: 1816, xL: 81.4, xR: 738, labelR: 78, labelY: 2060},
  kyse150LineWt, kyse150LineWtErr, kyse150LineKo, kyse150LineKoErr);

drawBarPanel(document.getElementById("kyse450Bar"),
  {x0: 1059.7, x1: 1380.5, step: 82.1, axisX: 1024, y0: 1786.5, y100: 1575.4, xL: 1014.7, xR: 1663.4, labelR: 1013, labelY: 1818, wtDx: -15.6, koDx: 15.6, w: 19.5},
  kyse450BarWt, kyse450BarWtUpper, kyse450BarKo, kyse450BarKoUpper, kyse450Sig, kyse450BracketTop, kyse450BracketLeft, kyse450BracketRight);
drawLinePanel(document.getElementById("kyse450Line"),
  {x0: 1064, x1: 1385, step: 81, axisX: 1024, y0: 2025.3, y100: 1814, xL: 1014.7, xR: 1671, labelR: 1013, labelY: 2056},
  kyse450LineWt, kyse450LineWtErr, kyse450LineKo, kyse450LineKoErr);
</script>
</body>
</html>
